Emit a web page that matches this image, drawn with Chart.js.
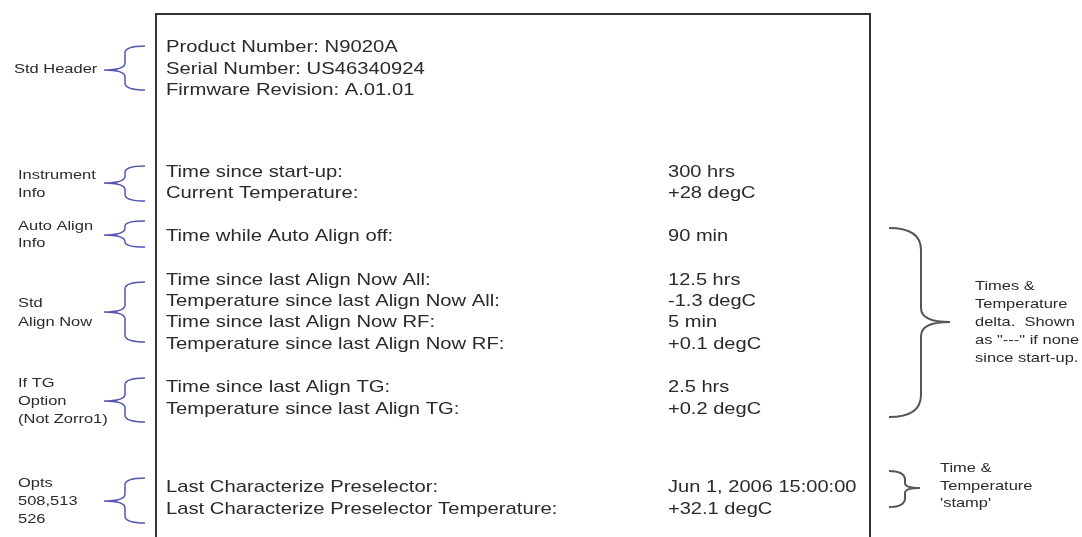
<!DOCTYPE html>
<html>
<head>
<meta charset="utf-8">
<script src="https://cdn.jsdelivr.net/npm/chart.js@4/dist/chart.umd.min.js"></script>
<style>
body { margin: 0; background: #fff; }
#wrap { width: 1082px; height: 537px; }
</style>
</head>
<body>
<div id="wrap"><canvas id="grafica" width="1082" height="537"></canvas></div>
<script>
// lineas del reporte
const rowLabels = [
  "Product Number: N9020A",
  "Serial Number: US46340924",
  "Firmware Revision: A.01.01",
  "Time since start-up:",
  "Current Temperature:",
  "Time while Auto Align off:",
  "Time since last Align Now All:",
  "Temperature since last Align Now All:",
  "Time since last Align Now RF:",
  "Temperature since last Align Now RF:",
  "Time since last Align TG:",
  "Temperature since last Align TG:",
  "Last Characterize Preselector:",
  "Last Characterize Preselector Temperature:"
];
const rowValues = [
  "", "", "",
  "300 hrs", "+28 degC",
  "90 min",
  "12.5 hrs", "-1.3 degC", "5 min", "+0.1 degC",
  "2.5 hrs", "+0.2 degC",
  "Jun 1, 2006 15:00:00", "+32.1 degC"
];
// grupos de la izquierda
const groupLabels = [
  ["Std Header"],
  ["Instrument", "Info"],
  ["Auto Align", "Info"],
  ["Std", "Align Now"],
  ["If TG", "Option", "(Not Zorro1)"],
  ["Opts", "508,513", "526"]
];
// notas de la derecha
const noteLabels = [
  ["Times &", "Temperature", "delta.  Shown", "as \"---\" if none", "since start-up."],
  ["Time &", "Temperature", "'stamp'"]
];

// layout (posiciones en unidades de la escala)
const rowY = [47, 69, 90, 172, 193, 236, 280, 301, 322, 344, 387, 409, 487, 509];
const groupTextY = [[69], [175, 193], [226, 243], [303, 322], [383, 401, 419], [483, 501, 519]];
const groupBrace = [[46, 70, 90], [166, 183, 201], [221, 235, 247], [282, 312, 342], [378, 401, 422], [478, 501, 523]];
const groupX = [14, 18, 18, 18, 18, 18];
const noteTextY = [[286, 304, 322, 340, 358], [468, 486, 503]];
const noteX = [975, 940];

function brace(ctx, xEnd, xMid, xTip, yTop, yTip, yBot, rEnd, rTip) {
  ctx.beginPath();
  ctx.moveTo(xEnd, yTop);
  ctx.quadraticCurveTo(xMid, yTop, xMid, yTop + rEnd);
  ctx.lineTo(xMid, yTip - rTip);
  ctx.quadraticCurveTo(xMid, yTip, xTip, yTip);
  ctx.quadraticCurveTo(xMid, yTip, xMid, yTip + rTip);
  ctx.lineTo(xMid, yBot - rEnd);
  ctx.quadraticCurveTo(xMid, yBot, xEnd, yBot);
  ctx.stroke();
}

// texto algo ensanchado, como en la imagen original
function texto(ctx, t, x, y, sx) {
  ctx.save();
  ctx.translate(x, y);
  ctx.scale(sx, 1);
  ctx.fillText(t, 0, 0);
  ctx.restore();
}

const reportePlugin = {
  id: "reporte",
  afterDraw(chart) {
    const ctx = chart.ctx;
    const sx = chart.scales.x, sy = chart.scales.y;
    const X = v => sx.getPixelForValue(v);
    const Y = v => sy.getPixelForValue(v);
    ctx.save();

    // caja
    ctx.strokeStyle = "#333";
    ctx.lineWidth = 2;
    ctx.beginPath();
    ctx.moveTo(X(156), Y(540));
    ctx.lineTo(X(156), Y(14));
    ctx.lineTo(X(870), Y(14));
    ctx.lineTo(X(870), Y(540));
    ctx.stroke();

    // texto principal
    ctx.fillStyle = "#2a2a2a";
    ctx.textBaseline = "middle";
    ctx.font = "17px 'Liberation Sans', Arial, sans-serif";
    rowLabels.forEach((t, i) => texto(ctx, t, X(166), Y(rowY[i]), 1.19));
    rowValues.forEach((t, i) => { if (t) texto(ctx, t, X(668), Y(rowY[i]), 1.18); });

    // grupos izquierda
    ctx.font = "13.5px 'Liberation Sans', Arial, sans-serif";
    groupLabels.forEach((lines, g) => {
      lines.forEach((t, j) => texto(ctx, t, X(groupX[g]), Y(groupTextY[g][j]), 1.22));
    });
    ctx.strokeStyle = "#5555b0";
    ctx.lineWidth = 1.5;
    groupBrace.forEach(b => {
      const r = Math.min(7, (b[1] - b[0]) / 2 - 2);
      brace(ctx, X(145), X(125), X(104), Y(b[0]), Y(b[1]), Y(b[2]), r, 7);
    });

    // notas derecha
    noteLabels.forEach((lines, n) => {
      lines.forEach((t, j) => texto(ctx, t, X(noteX[n]), Y(noteTextY[n][j]), 1.22));
    });
    ctx.strokeStyle = "#555";
    ctx.lineWidth = 2;
    brace(ctx, X(889), X(921), X(950), Y(228), Y(322), Y(417), 22, 14);
    brace(ctx, X(889), X(905), X(920), Y(471), Y(488), Y(507), 9, 5);

    ctx.restore();
  }
};

new Chart(document.getElementById("grafica"), {
  type: "scatter",
  data: { datasets: [] },
  options: {
    responsive: false,
    animation: false,
    layout: { padding: 0 },
    plugins: { legend: { display: false }, tooltip: { enabled: false } },
    scales: {
      x: { type: "linear", min: 0, max: 1082, display: false },
      y: { type: "linear", min: 0, max: 537, reverse: true, display: false }
    }
  },
  plugins: [reportePlugin]
});
</script>
</body>
</html>
